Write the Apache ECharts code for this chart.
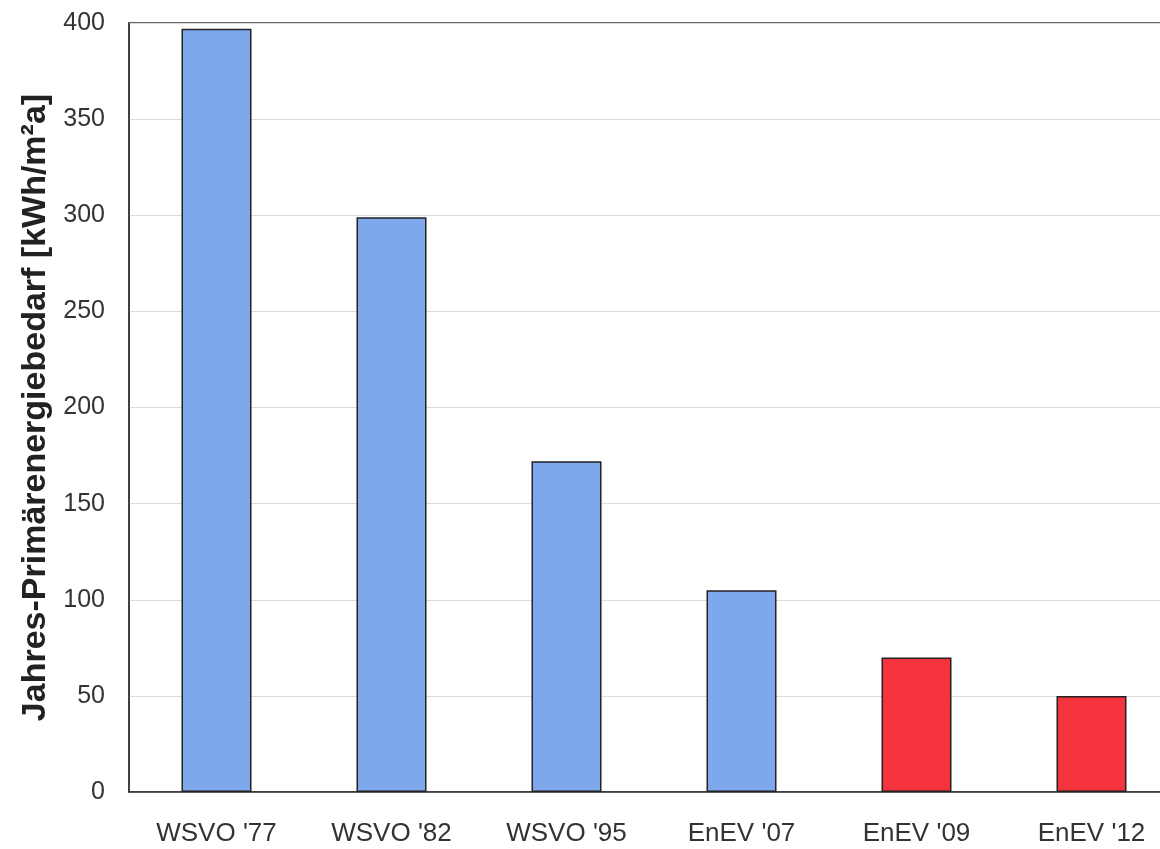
<!DOCTYPE html>
<html>
<head>
<meta charset="utf-8">
<script src="https://cdn.jsdelivr.net/npm/echarts@6/dist/echarts.min.js"></script>
<style>
html,body{margin:0;padding:0;background:#fff;}
#chart{width:1160px;height:849px;}
</style>
</head>
<body>
<div id="chart"></div>
<script>
const categories = ["WSVO '77", "WSVO '82", "WSVO '95", "EnEV '07", "EnEV '09", "EnEV '12"];
const values = [397, 299, 172, 105, 70, 50];
const yTicks = [0, 50, 100, 150, 200, 250, 300, 350, 400];
const yAxisTitle = "Jahres-Primärenergiebedarf [kWh/m²a]";

const BLUE = '#7fa7ec';
const RED = '#f4333f';
const FONT = '"Liberation Sans", Arial, sans-serif';

const chart = echarts.init(document.getElementById('chart'), null, {renderer: 'canvas'});
chart.setOption({
  animation: false,
  backgroundColor: '#ffffff',
  grid: {
    left: 129, width: 1050, top: 23, bottom: 57,
    outerBoundsMode: 'none',
    containLabel: false,
    show: true, borderColor: '#333', borderWidth: 1.5, backgroundColor: 'transparent'
  },
  xAxis: {
    type: 'category',
    data: categories,
    axisLine: {show: true, lineStyle: {color: '#333', width: 1.5}},
    axisTick: {show: false},
    axisLabel: {color: '#333', fontSize: 26, fontFamily: FONT, margin: 29, interval: 0},
    splitLine: {show: false}
  },
  yAxis: {
    type: 'value',
    min: yTicks[0],
    max: yTicks[yTicks.length - 1],
    interval: yTicks[1] - yTicks[0],
    name: yAxisTitle,
    nameLocation: 'middle',
    nameGap: 74,
    nameTextStyle: {color: '#222', fontSize: 34, fontWeight: 'bold', fontFamily: FONT},
    axisLine: {show: true, lineStyle: {color: '#333', width: 1.5}},
    axisTick: {show: false},
    axisLabel: {color: '#333', fontSize: 25, fontFamily: FONT, margin: 24},
    splitLine: {show: true, lineStyle: {color: '#dcdcdc', width: 1}}
  },
  series: [{
    type: 'bar',
    data: values,
    barWidth: 70,
    itemStyle: {
      color: function (p) { return p.dataIndex >= 4 ? RED : BLUE; },
      borderColor: '#222',
      borderWidth: 1.5
    }
  }]
});
</script>
</body>
</html>
